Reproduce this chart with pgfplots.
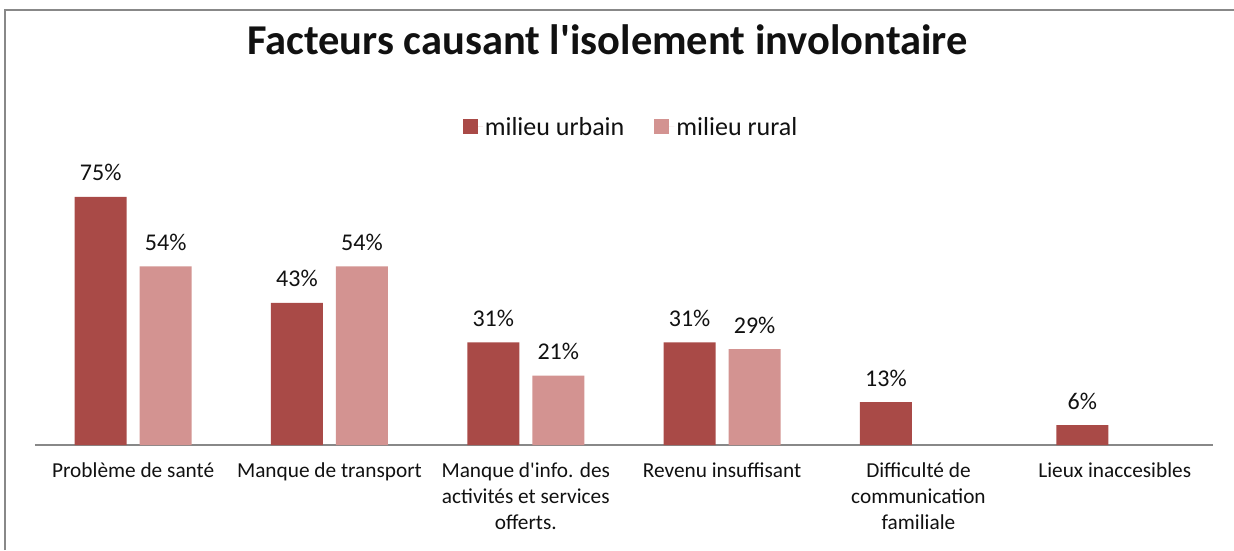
\documentclass[border=0pt]{standalone}
\usepackage{pgfplots}
\pgfplotsset{compat=1.18}
\usepackage{fontspec}
\setmainfont{Carlito}
\definecolor{urb}{HTML}{A94A47}
\definecolor{rur}{HTML}{D39391}
\definecolor{framec}{HTML}{888888}
\definecolor{txt}{HTML}{111111}
\begin{document}
\begin{tikzpicture}[x=1pt,y=1pt]
\path[use as bounding box] (0,0) rectangle (1234,550);
\draw[framec, line width=2pt] (5,0) -- (5,540) -- (1234,540);
\node[anchor=base, font=\fontsize{42.5}{50}\selectfont\bfseries, text=txt] at (607.5, 495) {Facteurs causant l\textquotesingle isolement involontaire};
\begin{axis}[
  at={(35pt,105pt)}, anchor=south west,
  scale only axis, width=1178pt, height=264.6pt,
  xmin=-0.5, xmax=5.5, ymin=0, ymax=80,
  ybar, bar width=52pt,
  axis x line*=bottom, hide y axis,
  axis line style={draw=framec, line width=1.5pt, -},
  xtick={0,...,5}, xtick style={draw=none},
  xticklabels={Problème de santé, Manque de transport, {Manque d\textquotesingle info. des\\activités et services\\offerts.}, Revenu insuffisant, {Difficulté de\\communication\\familiale}, Lieux inaccesibles},
  xticklabel style={align=center, font=\fontsize{21.3}{26}\selectfont, text=txt, anchor=north, yshift=-10pt},
  /pgf/number format/assume math mode=true,
  nodes near coords={\pgfmathprintnumber{\pgfplotspointmeta}\%},
  every node near coord/.append style={anchor=base, yshift=16pt, font=\fontsize{24}{28}\selectfont, text=txt},
  legend style={draw=none, at={(0.506,1.202)}, anchor=center, legend columns=2, font=\fontsize{26}{30}\selectfont, text=txt,
    /tikz/every even column/.append style={column sep=28pt}},
  legend image code/.code={\fill[#1] (0pt,-7.5pt) rectangle (15pt,7.5pt); \path (0pt,0pt) -- (20pt,0pt);},
  clip=false,
]
\addplot[fill=urb, draw=none, bar shift=-32.5pt] coordinates {(0,75) (1,43) (2,31) (3,31) (4,13) (5,6)};
\addplot[fill=rur, draw=none, bar shift=32.5pt] coordinates {(0,54) (1,54) (2,21) (3,29)};
\legend{milieu urbain, milieu rural}
\end{axis}
\end{tikzpicture}
\end{document}
